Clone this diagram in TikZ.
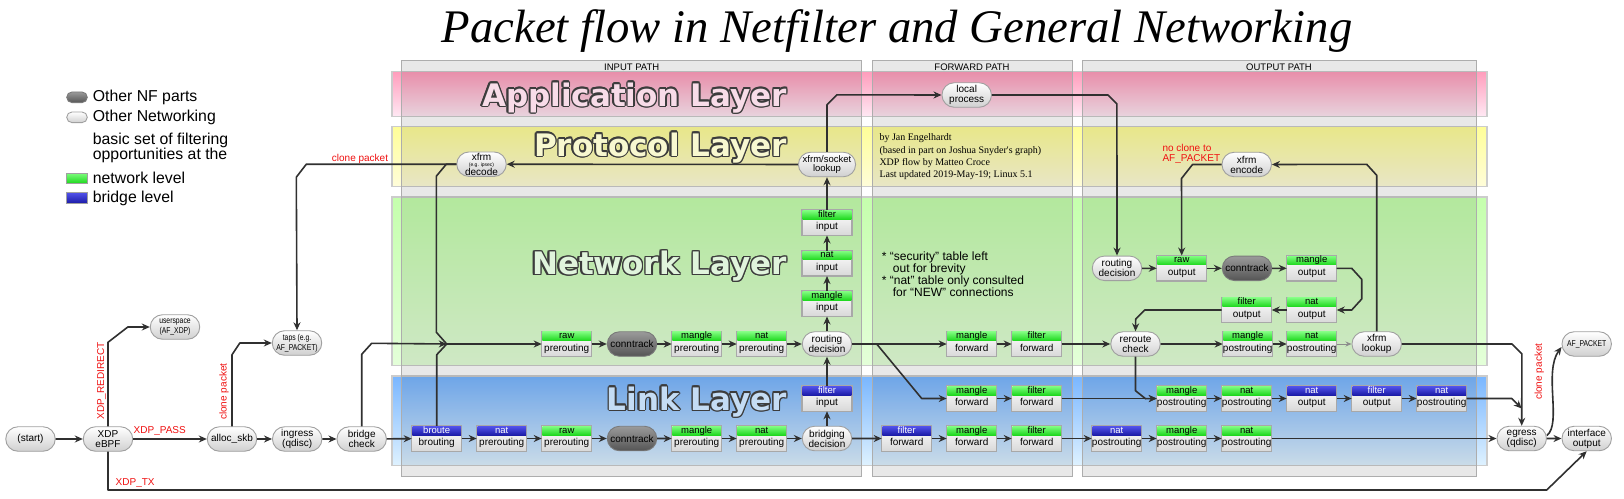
\documentclass[tikz,border=0pt]{standalone}
\usepackage{fontspec}
\setmainfont{Liberation Sans}
\newfontfamily\serifit{Liberation Serif}
\newfontfamily\layerfont{DejaVu Sans}
\newfontfamily\narrowfont[FakeStretch=0.8]{Liberation Sans}
\usetikzlibrary{shapes.misc,arrows.meta}
\definecolor{lnk}{HTML}{303030}
\definecolor{pillborder}{HTML}{A0A0A0}
\definecolor{pillbot}{HTML}{D0D0D0}
\definecolor{dktop}{HTML}{9A9A9A}
\definecolor{dkbot}{HTML}{555555}
\definecolor{dkborder}{HTML}{7A7A7A}
\definecolor{tblborder}{HTML}{A8A8A8}
\definecolor{bodybot}{HTML}{D8D8D8}
\definecolor{grntop}{HTML}{7DFC7D}
\definecolor{grnbot}{HTML}{1ED81E}
\definecolor{blutop}{HTML}{5050E8}
\definecolor{blubot}{HTML}{1C1CA8}
\definecolor{apptop}{HTML}{FF9DBC}
\definecolor{appbot}{HTML}{FFE9F4}
\definecolor{prottop}{HTML}{FFFE98}
\definecolor{protbot}{HTML}{FFFDDA}
\definecolor{nettop}{HTML}{C5FFAD}
\definecolor{netbot}{HTML}{E4FFD9}
\definecolor{linktop}{HTML}{79B6FF}
\definecolor{linkbot}{HTML}{DFF2FF}
\definecolor{ltout}{HTML}{3C3C3C}
\definecolor{appfill}{HTML}{F8DCE8}
\definecolor{protfill}{HTML}{F8F8D0}
\definecolor{netfill}{HTML}{E0F4DC}
\definecolor{linkfill}{HTML}{C4DCF4}
\definecolor{redtxt}{HTML}{F01010}

\newcommand\tablebox[5]{%
  \node[tblbox] (#2) at (#3) {};
  \shade[#1hdr] ([shift={(0.7pt,-0.7pt)}]#2.north west) rectangle ([shift={(-0.7pt,-9.3pt)}]#2.north east);
  \node[hdrfont,#1txt] (#2-hdr) at ([yshift=-4.9pt]#2.north) {#4};
  \node[bodyfont] (#2-body) at ([yshift=-4.7pt]#2.center) {#5};
}
\newcommand\layertitle[4]{%
  \foreach \a in {0,30,...,330} {\node[ltitle, text=ltout, xshift={1.4*cos(\a)}, yshift={1.4*sin(\a)}] at (#2) {#3};}
  \node[ltitle, text=#4] (#1) at (#2) {#3};
}

\begin{document}
\begin{tikzpicture}[x=1pt,y=-1pt,
  pill/.style={rounded rectangle, draw=pillborder, line width=0.9pt, top color=white, bottom color=pillbot,
    minimum width=49.5pt, minimum height=24.5pt, inner sep=0pt, align=center, font=\fontsize{10}{10}\selectfont},
  darkpill/.style={pill, top color=dktop, bottom color=dkbot, draw=dkborder},
  narrowpill/.style={pill, font=\narrowfont\fontsize{8.5}{9.8}\selectfont},
  tblbox/.style={rectangle, draw=tblborder, line width=1.4pt, top color=white, bottom color=bodybot,
    minimum width=50pt, minimum height=25.5pt, inner sep=0pt, outer sep=0pt},
  grnhdr/.style={top color=grntop, bottom color=grnbot},
  bluhdr/.style={top color=blutop, bottom color=blubot},
  grntxt/.style={text=black},
  blutxt/.style={text=white},
  hdrfont/.style={font=\fontsize{9.5}{9.5}\selectfont, inner sep=0pt, text height=6.8pt, text depth=1.9pt},
  bodyfont/.style={font=\fontsize{10}{10}\selectfont, inner sep=0pt, text height=7.2pt, text depth=2.1pt},
  conn/.style={draw=lnk, line width=1.6pt, line join=round, -{Stealth[length=8pt,width=7pt]}},
  plainln/.style={draw=lnk, line width=1.6pt, line join=round},
  thinconn/.style={draw=black!45, line width=0.8pt, -{Stealth[length=6pt,width=5pt]}},
  redlbl/.style={text=redtxt, font=\fontsize{10}{10}\selectfont, inner sep=0pt},
  ltitle/.style={font=\layerfont\bfseries\fontsize{31}{31}\selectfont, anchor=base east, inner sep=0pt},
  layerbox/.style={draw=black!20, line width=1.5pt},
  panel/.style={fill=black, fill opacity=0.09, draw=black!32, line width=1pt},
  pathlbl/.style={font=\fontsize{9.5}{9.5}\selectfont, inner sep=0pt},
  legtxt/.style={font=\fontsize{15.8}{12.3}\selectfont, anchor=west, inner sep=0pt, align=left}
]
\useasboundingbox (0,0) rectangle (1624,498);
\fill[white] (0,0) rectangle (1624,498);

% layers
\path[layerbox, top color=apptop, bottom color=appbot] (392,71.7) rectangle (1487,116.7);
\path[layerbox, top color=prottop, bottom color=protbot] (392,126.7) rectangle (1487,186.7);
\path[layerbox, top color=nettop, bottom color=netbot] (392,197) rectangle (1487,365.7);
\path[layerbox, top color=linktop, bottom color=linkbot] (392,376) rectangle (1487,465.7);

% path panels
\path[panel] (401.7,60.7) rectangle (861.7,476);
\path[panel] (872.3,60.7) rectangle (1072,476);
\path[panel] (1082,60.7) rectangle (1476.7,476);
\node[pathlbl] (inlbl) at (631.7,67.5) {INPUT PATH};
\node[pathlbl] (fwdlbl) at (972,67.5) {FORWARD PATH};
\node[pathlbl] (outlbl) at (1279,67.5) {OUTPUT PATH};

% layer titles
\layertitle{apptitle}{787,106}{Application Layer}{appfill}
\layertitle{prottitle}{787,156}{Protocol Layer}{protfill}
\layertitle{nettitle}{787,274.5}{Network Layer}{netfill}
\layertitle{linktitle}{787,410}{Link Layer}{linkfill}

% title
\node[font=\serifit\itshape\fontsize{46.7}{46.7}\selectfont, anchor=base, inner sep=0pt] (title) at (897,42) {Packet flow in Netfilter and General Networking};

% legend
\node[darkpill, minimum width=20.6pt, minimum height=10.7pt] (lgnf) at (77,97.3) {};
\node[pill, minimum width=20.6pt, minimum height=10.7pt] (lgnet) at (77,117.3) {};
\node[rectangle, draw=pillborder, line width=0.9pt, grnhdr, minimum width=20.6pt, minimum height=10.3pt, inner sep=0pt] (lggrn) at (77,178.2) {};
\node[rectangle, draw=pillborder, line width=0.9pt, bluhdr, minimum width=20.6pt, minimum height=10.3pt, inner sep=0pt] (lgblu) at (77,198) {};
\node[legtxt] (lgt1) at (92.7,97.3) {Other NF parts};
\node[legtxt] (lgt2) at (92.7,117.3) {Other Networking};
\node[legtxt] (lgt3) at (92.7,148) {basic set of filtering\\opportunities at the};
\node[legtxt] (lgt4) at (92.7,178.2) {network level};
\node[legtxt] (lgt5) at (92.7,198) {bridge level};

% credits and notes
\node[font=\serifit\fontsize{10}{12.4}\selectfont, align=left, anchor=north west, inner sep=0pt] (credit) at (879.3,133.5)
 {by Jan Engelhardt\\(based in part on Joshua Snyder's graph)\\XDP flow by Matteo Croce\\Last updated 2019-May-19; Linux 5.1};
\node[font=\fontsize{12}{11.9}\selectfont, align=left, anchor=north west, inner sep=0pt] (notes) at (881.7,252)
 {* “security” table left\\\hspace*{11pt}out for brevity\\\relax * “nat” table only consulted\\\hspace*{11pt}for “NEW” connections};

% ---------- nodes ----------
\node[pill] (start) at (30.5,439) {(start)};
\node[pill] (xdp) at (108,439) {XDP\\eBPF};
\node[pill] (alloc) at (232,439) {alloc\_skb};
\node[pill] (ingress) at (297.2,439) {ingress\\(qdisc)};
\node[pill] (bridgecheck) at (361.7,439) {bridge\\check};
\node[narrowpill] (userspace) at (175,327) {userspace\\(AF\_XDP)};
\node[narrowpill] (taps) at (297,343) {taps (e.g.\\AF\_PACKET)};

% link layer lower row
\tablebox{blu}{broute}{436.7,438.5}{broute}{brouting}
\tablebox{blu}{lnatpre}{501.7,438.5}{nat}{prerouting}
\tablebox{grn}{lrawpre}{566.7,438.5}{raw}{prerouting}
\node[darkpill] (lct) at (632,438.5) {conntrack};
\tablebox{grn}{lmanglepre}{696.7,438.5}{mangle}{prerouting}
\tablebox{grn}{lnatpretwo}{761.7,438.5}{nat}{prerouting}
\node[pill] (bridging) at (827,438.5) {bridging\\decision};
\tablebox{blu}{lfilterin}{827,398.5}{filter}{input}
\tablebox{blu}{bfilterfwd}{906.7,438.5}{filter}{forward}
\tablebox{grn}{manglefwdc}{971.7,438.5}{mangle}{forward}
\tablebox{grn}{filterfwdc}{1036.7,438.5}{filter}{forward}
\tablebox{blu}{bnatpostc}{1116.7,438.5}{nat}{postrouting}
\tablebox{grn}{manglepostc}{1181.7,438.5}{mangle}{postrouting}
\tablebox{grn}{natpostc}{1246.7,438.5}{nat}{postrouting}
\node[pill] (egress) at (1521.7,438.5) {egress\\(qdisc)};
\node[pill] (ifout) at (1586.7,438.5) {interface\\output};

% link layer upper row
\tablebox{grn}{manglefwdb}{971.7,398.5}{mangle}{forward}
\tablebox{grn}{filterfwdb}{1036.7,398.5}{filter}{forward}
\tablebox{grn}{manglepostb}{1181.7,398.5}{mangle}{postrouting}
\tablebox{grn}{natpostb}{1246.7,398.5}{nat}{postrouting}
\tablebox{blu}{bnatout}{1311.7,398.5}{nat}{output}
\tablebox{blu}{bfilterout}{1376.7,398.5}{filter}{output}
\tablebox{blu}{bnatpost}{1441.7,398.5}{nat}{postrouting}

% network layer row
\tablebox{grn}{rawpre}{566.7,344}{raw}{prerouting}
\node[darkpill] (ctn) at (632,344) {conntrack};
\tablebox{grn}{manglepre}{696.7,344}{mangle}{prerouting}
\tablebox{grn}{natpre}{761.7,344}{nat}{prerouting}
\node[pill] (routing) at (827,344) {routing\\decision};
\tablebox{grn}{manglefwda}{971.7,344}{mangle}{forward}
\tablebox{grn}{filterfwda}{1036.7,344}{filter}{forward}
\node[pill] (reroute) at (1135.5,344) {reroute\\check};
\tablebox{grn}{mangleposta}{1247.7,344}{mangle}{postrouting}
\tablebox{grn}{natposta}{1311.7,344}{nat}{postrouting}
\node[pill] (xfrmlookup) at (1376.7,344) {xfrm\\lookup};
\node[narrowpill] (afpacket) at (1586.7,344) {AF\_PACKET};

% input column
\tablebox{grn}{manglein}{827,303.7}{mangle}{input}
\tablebox{grn}{natin}{827,263.3}{nat}{input}
\tablebox{grn}{filterin}{827,222.7}{filter}{input}
\node[pill, font=\fontsize{9.5}{9.8}\selectfont] (xfrmsock) at (827,164.5) {xfrm/socket\\lookup};
\node[pill] (localproc) at (966.7,95) {local\\process};
\node[pill, font=\fontsize{10}{15.5}\selectfont] (decode) at (481.5,164.2) {xfrm\\decode};
\node[font=\fontsize{5}{5}\selectfont, inner sep=0pt] (decodenote) at (481.5,165) {(e.g. ipsec)};

% output upper
\node[pill] (routingout) at (1117,268.3) {routing\\decision};
\tablebox{grn}{rawout}{1181.7,268.3}{raw}{output}
\node[darkpill] (ctout) at (1247,268.3) {conntrack};
\tablebox{grn}{mangleout}{1311.7,268.3}{mangle}{output}
\tablebox{grn}{filterout}{1246.7,310}{filter}{output}
\tablebox{grn}{natout}{1311.7,310}{nat}{output}
\node[pill] (xfrmencode) at (1246.7,164.5) {xfrm\\encode};

% ---------- connectors ----------
\coordinate (merge) at (446.7,344);
\coordinate (txturn) at (1546.7,490);

\foreach \p/\q in {start/xdp, xdp/alloc, alloc/ingress, ingress/bridgecheck, bridgecheck/broute,
  broute/lnatpre, lnatpre/lrawpre, lrawpre/lct, lct/lmanglepre, lmanglepre/lnatpretwo, lnatpretwo/bridging,
  bridging/bfilterfwd, bfilterfwd/manglefwdc, manglefwdc/filterfwdc, filterfwdc/bnatpostc,
  bnatpostc/manglepostc, manglepostc/natpostc, natpostc/egress, egress/ifout,
  manglefwdb/filterfwdb, filterfwdb/manglepostb, manglepostb/natpostb, natpostb/bnatout,
  bnatout/bfilterout, bfilterout/bnatpost,
  rawpre/ctn, ctn/manglepre, manglepre/natpre, natpre/routing, routing/manglefwda,
  manglefwda/filterfwda, filterfwda/reroute, reroute/mangleposta, mangleposta/natposta,
  xfrmsock/decode, routingout/rawout, rawout/ctout, ctout/mangleout, natout/filterout}
  {\draw[conn] (\p) -- (\q);}

\foreach \p/\q in {bridging/lfilterin, lfilterin/routing, routing/manglein, manglein/natin, natin/filterin, filterin/xfrmsock}
  {\draw[conn] (\p.north) -- (\q.south);}

\draw[thinconn] (natposta) -- (xfrmlookup);

\draw[conn] (xdp.north) -- ++(0,-84) -- ([xshift=-22pt]userspace.west) -- (userspace.west);
\draw[conn] (xdp.south) |- (txturn) -- (ifout.south);
\draw[conn] (alloc.north) -- ++(0,-71.5) -- ([xshift=-32pt]taps.west) -- (taps.west);
\draw[conn] (bridgecheck.north) -- ++(0,-72) -- ++(10,-11) -- (merge);
\draw[plainln] (broute.north) -- ++(0,-71) -- (merge);
\draw[plainln] (decode.west) -- ++(-10,0) -- ++(-10,12) -- ++(0,156) -- (merge);
\draw[conn] (decode.west) -- ++(-150,0) -- ++(-10,13) -- (taps.north);
\draw[conn] (merge) -- (rawpre.west);
\draw[conn] (xfrmsock.north) -- ++(0,-47) -- ++(10,-10) -- (localproc.west);
\draw[conn] (localproc.east) -- ++(116,0) -- ++(9,9) -- (routingout.north);
\draw[conn] (mangleout.east) -- ++(15,0) -- ++(10,11) -- ++(0,19.7) -- ++(-10,11) -- (natout.east);
\draw[conn] (filterout.west) -- ++(-77,0) -- ++(-9,9) -- (reroute.north);
\draw[conn] (xfrmencode.west) -- ++(-29,0) -- ++(-11,14) -- (rawout.north);
\draw[conn] (xfrmlookup.north) -- ++(0,-156) -- ++(-10,-11) -- (xfrmencode.east);
\draw[conn] (xfrmlookup.east) -- ++(110,0) -- ++(10,10) -- (egress.north);
\draw[conn] (bnatpost.east) -- ++(45,0) -- ++(10,10);
\draw[conn] ([yshift=3pt]egress.east) .. controls +(15,-12) and +(-18,25) .. ([yshift=-3pt]afpacket.west);
\draw[conn] ([xshift=24.5pt]routing.east) -- ++(45,54.5) -- (manglefwdb.west);
\draw[conn] (reroute.south) -- ++(0,34) -- ++(10,8) -- (manglepostb.west);

% red labels
\node[redlbl, rotate=90] (lblredir) at (101.7,381) {XDP\_REDIRECT};
\node[redlbl, anchor=west] (lblpass) at (133.5,431) {XDP\_PASS};
\node[redlbl, anchor=west] (lbltx) at (115.5,483.5) {XDP\_TX};
\node[redlbl, rotate=90] (lblclone1) at (224,391.7) {clone packet};
\node[redlbl] (lblclone2) at (360,158.7) {clone packet};
\node[redlbl, rotate=90] (lblclone3) at (1539.3,371.7) {clone packet};
\node[redlbl, align=left, anchor=north west, font=\fontsize{10}{9.3}\selectfont] (lblnoclone) at (1162.3,144.5) {no clone to\\AF\_PACKET};
\end{tikzpicture}
\end{document}
